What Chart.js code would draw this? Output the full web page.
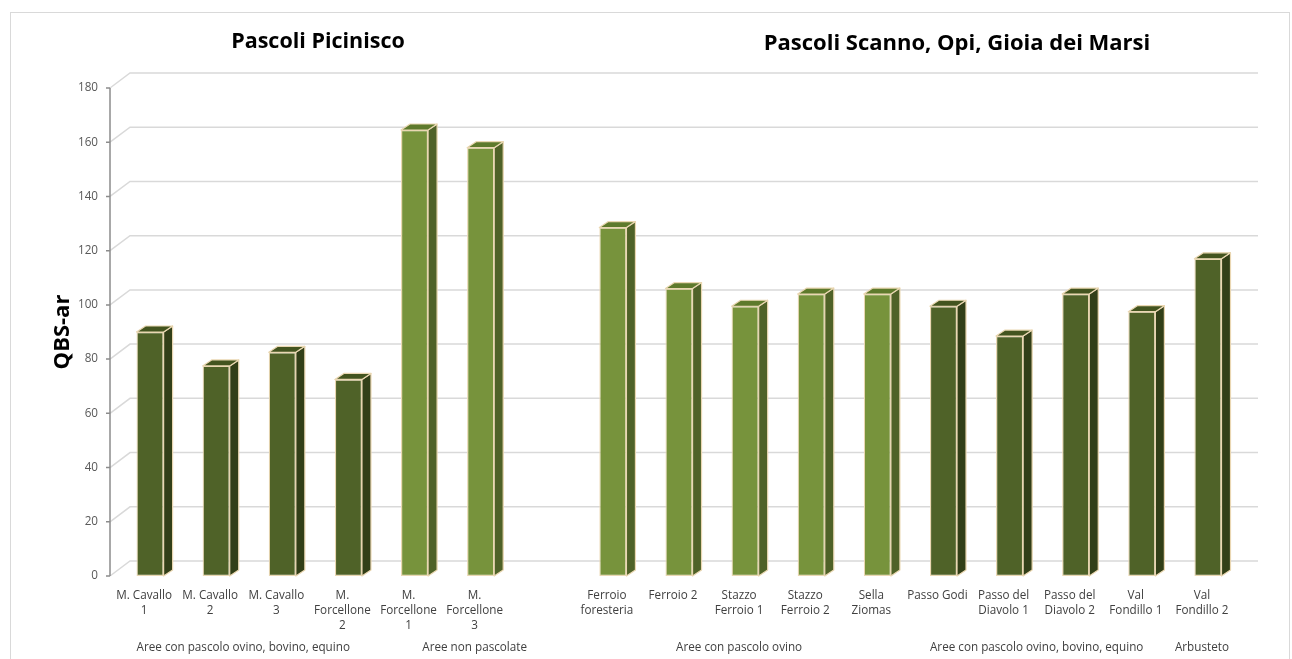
<!DOCTYPE html>
<html lang="it">
<head>
    <meta charset="UTF-8">
    <title>QBS-ar Pascoli</title>
    <script src="https://cdn.jsdelivr.net/npm/chart.js"></script>
    <style>
        body { margin: 0; background: #fff; }
        #wrap { width: 1292px; height: 659px; position: relative; }
    </style>
</head>
<body>
<div id="wrap"><canvas id="qbsChart"></canvas></div>
<script>
    // Stazioni (index 6 is the empty gap between the two areas)
    const categories = [
        ['M. Cavallo', '1'], ['M. Cavallo', '2'], ['M. Cavallo', '3'],
        ['M.', 'Forcellone', '2'], ['M.', 'Forcellone', '1'], ['M.', 'Forcellone', '3'],
        '',
        ['Ferroio', 'foresteria'], 'Ferroio 2', ['Stazzo', 'Ferroio 1'], ['Stazzo', 'Ferroio 2'],
        ['Sella', 'Ziomas'], 'Passo Godi', ['Passo del', 'Diavolo 1'], ['Passo del', 'Diavolo 2'],
        ['Val', 'Fondillo 1'], ['Val', 'Fondillo 2']
    ];
    const qbsValues = [90, 77.5, 82.5, 72.5, 164.5, 158, null, 128.5, 106, 99.5, 104, 104, 99.5, 88.5, 104, 97.5, 117];

    const groupLabels = ['Aree con pascolo ovino, bovino, equino', 'Aree non pascolate', 'Aree con pascolo ovino',
                         'Aree con pascolo ovino, bovino, equino', 'Arbusteto'];
    const groupSpans = [[0, 3], [4, 6], [7, 11], [12, 15], [16, 16]];
    const sectionTitles = ['Pascoli Picinisco', 'Pascoli Scanno, Opi, Gioia dei Marsi'];
    const yTicks = { min: 0, max: 180, step: 20 };

    // light green for ungrazed / sheep-only groups
    const lightGroups = [1, 2];
    const shades = {
        dark:  { front: '#4F6228', side: '#323F18', top: '#43541F' },
        light: { front: '#77933C', side: '#4F6228', top: '#5E7A2C' }
    };
    const edge = '#EAD7B2';
    const FONT = '"Open Sans", "Noto Sans", sans-serif';

    function shadeOf(i) {
        const g = groupSpans.findIndex(s => i >= s[0] && i <= s[1]);
        return lightGroups.includes(g) ? shades.light : shades.dark;
    }

    // frame, back wall gridlines and front axis
    const wallPlugin = {
        id: 'wall',
        beforeDraw(chart) {
            const ctx = chart.ctx;
            ctx.save();
            ctx.strokeStyle = '#D9D9D9';
            ctx.lineWidth = 1;
            ctx.strokeRect(10.5, 12.5, 1279, 700);
            ctx.restore();
        },
        beforeDatasetsDraw(chart) {
            const { ctx, chartArea } = chart;
            const y = chart.scales.y;
            const ax = chartArea.left - 7;
            ctx.save();
            ctx.strokeStyle = '#D9D9D9';
            ctx.lineWidth = 1.5;
            y.ticks.forEach(t => {
                const py = y.getPixelForValue(t.value);
                ctx.beginPath();
                ctx.moveTo(ax, py);
                ctx.lineTo(ax + 20, py - 15);
                ctx.lineTo(chartArea.right + 17, py - 15);
                ctx.stroke();
            });
            ctx.strokeStyle = '#8C8C8C';
            ctx.lineWidth = 1.5;
            ctx.beginPath();
            ctx.moveTo(ax, chartArea.top);
            ctx.lineTo(ax, chartArea.bottom);
            y.ticks.forEach(t => {
                const py = y.getPixelForValue(t.value);
                ctx.moveTo(ax - 4, py);
                ctx.lineTo(ax, py);
            });
            ctx.stroke();
            ctx.restore();
        }
    };

    // side and top faces of every bar
    const depthPlugin = {
        id: 'depth',
        afterDatasetsDraw(chart) {
            const ctx = chart.ctx;
            const dx = 9, dy = -6;
            ctx.save();
            ctx.lineWidth = 1.2;
            ctx.strokeStyle = edge;
            ctx.lineJoin = 'round';
            chart.getDatasetMeta(0).data.forEach((bar, i) => {
                if (qbsValues[i] == null) return;
                const { x, y, base, width } = bar.getProps(['x', 'y', 'base', 'width'], true);
                const l = x - width / 2, r = x + width / 2;
                const s = shadeOf(i);
                ctx.fillStyle = s.side;
                ctx.beginPath();
                ctx.moveTo(r, y); ctx.lineTo(r + dx, y + dy);
                ctx.lineTo(r + dx, base + dy); ctx.lineTo(r, base);
                ctx.closePath(); ctx.fill(); ctx.stroke();
                ctx.fillStyle = s.top;
                ctx.beginPath();
                ctx.moveTo(l, y); ctx.lineTo(l + dx, y + dy);
                ctx.lineTo(r + dx, y + dy); ctx.lineTo(r, y);
                ctx.closePath(); ctx.fill(); ctx.stroke();
            });
            ctx.restore();
        }
    };

    // group labels under the categories and the two section titles
    const labelPlugin = {
        id: 'groups',
        afterDraw(chart) {
            const { ctx, chartArea } = chart;
            const x = chart.scales.x;
            ctx.save();
            ctx.textAlign = 'center';
            ctx.textBaseline = 'middle';
            ctx.fillStyle = '#404040';
            ctx.font = '11.7px ' + FONT;
            const half = (x.getPixelForValue(1) - x.getPixelForValue(0)) / 2;
            groupSpans.forEach((s, g) => {
                const cx = (x.getPixelForValue(s[0]) - half + x.getPixelForValue(s[1]) + half) / 2 - 6;
                ctx.fillText(groupLabels[g], cx, chartArea.bottom + 72);
            });
            ctx.fillStyle = '#000';
            ctx.font = 'bold 21.5px ' + FONT;
            ctx.fillText(sectionTitles[0], 318, 42);
            ctx.font = 'bold 22px ' + FONT;
            ctx.fillText(sectionTitles[1], 957, 44);
            ctx.restore();
        }
    };

    new Chart(document.getElementById('qbsChart'), {
        type: 'bar',
        data: {
            labels: categories,
            datasets: [{
                label: 'QBS-ar',
                data: qbsValues,
                backgroundColor: c => shadeOf(c.dataIndex).front,
                borderColor: edge,
                borderWidth: 1.2,
                borderSkipped: false,
                barPercentage: 0.41,
                categoryPercentage: 1
            }]
        },
        options: {
            responsive: true,
            maintainAspectRatio: false,
            animation: false,
            layout: { padding: { left: 10, right: 51, top: 88, bottom: 0 } },
            plugins: {
                legend: { display: false },
                tooltip: { enabled: false }
            },
            scales: {
                x: {
                    grid: { display: false, drawTicks: false },
                    border: { display: false },
                    ticks: {
                        autoSkip: false,
                        maxRotation: 0,
                        padding: 12,
                        labelOffset: -6,
                        color: '#404040',
                        font: { family: FONT, size: 11.7, lineHeight: 15 / 11.7 }
                    },
                    afterFit(scale) { scale.height = 83; }
                },
                y: {
                    min: yTicks.min,
                    max: yTicks.max,
                    grid: { display: false, drawTicks: false },
                    border: { display: false },
                    ticks: {
                        stepSize: yTicks.step,
                        padding: 19,
                        color: '#595959',
                        font: { family: FONT, size: 11.7 }
                    },
                    title: {
                        display: true,
                        text: 'QBS-ar',
                        color: '#000',
                        font: { family: FONT, size: 22, weight: 'bold' },
                        padding: { top: 40, bottom: 0 }
                    },
                    afterFit(scale) { scale.width = 107; }
                }
            }
        },
        plugins: [wallPlugin, depthPlugin, labelPlugin]
    });
</script>
</body>
</html>
